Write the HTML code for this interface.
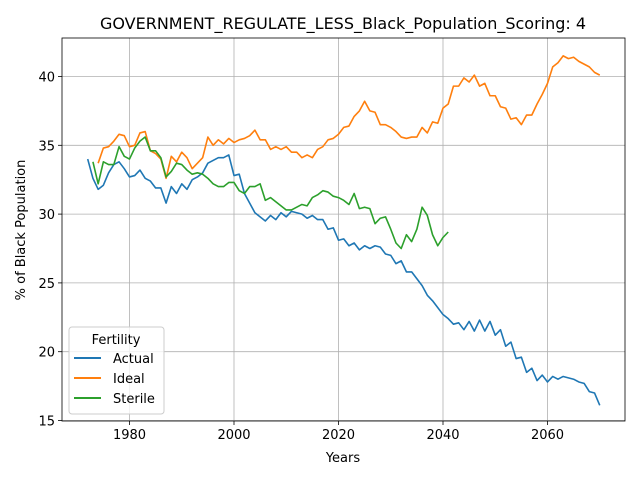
<!DOCTYPE html>
<html><head><meta charset="utf-8"><style>
body{margin:0;background:#fff;}
svg{display:block;font-family:"DejaVu Sans","Liberation Sans",sans-serif;}
</style></head><body>
<svg id="chart" width="640" height="480" viewBox="0 0 640 480" xmlns="http://www.w3.org/2000/svg">
<rect width="640" height="480" fill="#fff"/>
<g id="grid"></g>
<g id="series"></g>
<g id="axes"></g>
<text x="343" y="29" text-anchor="middle" font-size="16">GOVERNMENT_REGULATE_LESS_Black_Population_Scoring: 4</text>
<text x="343" y="462" text-anchor="middle" font-size="13">Years</text>
<text transform="translate(25,230) rotate(-90)" text-anchor="middle" font-size="13">% of Black Population</text>
<g id="legend">
<rect x="69" y="327" width="95" height="87" rx="3" fill="#fff" fill-opacity="0.8" stroke="#ccc"/>
<text x="116" y="344" text-anchor="middle" font-size="13">Fertility</text>
<g><line x1="74" y1="358" x2="101" y2="358" stroke="#1f77b4" stroke-width="2"/><text x="113" y="363" font-size="13">Actual</text></g>
<g><line x1="74" y1="378" x2="101" y2="378" stroke="#ff7f0e" stroke-width="2"/><text x="113" y="383" font-size="13">Ideal</text></g>
<g><line x1="74" y1="398" x2="101" y2="398" stroke="#2ca02c" stroke-width="2"/><text x="113" y="403" font-size="13">Sterile</text></g>
</g>
</svg>
<script>
const actualStart = 1972;
const actualValues = [34.0,32.6,31.8,32.1,33.0,33.6,33.8,33.3,32.7,32.8,33.2,32.6,32.4,31.9,31.9,30.8,32.0,31.5,32.2,31.8,32.5,32.7,33.0,33.7,33.9,34.1,34.1,34.3,32.8,32.9,31.5,30.8,30.1,29.8,29.5,29.9,29.6,30.1,29.8,30.2,30.1,30.0,29.7,29.9,29.6,29.6,28.9,29.0,28.1,28.2,27.7,27.9,27.4,27.7,27.5,27.7,27.6,27.1,27.0,26.4,26.6,25.8,25.8,25.3,24.8,24.1,23.7,23.2,22.7,22.4,22.0,22.1,21.6,22.2,21.5,22.3,21.5,22.2,21.2,21.6,20.4,20.7,19.5,19.6,18.5,18.8,17.9,18.3,17.8,18.2,18.0,18.2,18.1,18.0,17.8,17.7,17.1,17.0,16.1];
const idealStart = 1974;
const idealValues = [33.7,34.8,34.9,35.3,35.8,35.7,34.9,35.0,35.9,36.0,34.6,34.4,34.0,32.6,34.2,33.8,34.5,34.1,33.3,33.7,34.1,35.6,35.0,35.4,35.1,35.5,35.2,35.4,35.5,35.7,36.1,35.4,35.4,34.7,34.9,34.7,34.9,34.5,34.5,34.1,34.3,34.1,34.7,34.9,35.4,35.5,35.8,36.3,36.4,37.1,37.5,38.2,37.5,37.4,36.5,36.5,36.3,36.0,35.6,35.5,35.6,35.6,36.3,35.9,36.7,36.6,37.7,38.0,39.3,39.3,39.9,39.6,40.1,39.3,39.5,38.6,38.6,37.8,37.7,36.9,37.0,36.5,37.2,37.2,38.0,38.7,39.5,40.7,41.0,41.5,41.3,41.4,41.1,40.9,40.7,40.3,40.1];
const sterileStart = 1973;
const sterileValues = [33.8,32.2,33.8,33.6,33.6,34.9,34.2,34.0,34.8,35.3,35.6,34.6,34.6,34.1,32.7,33.1,33.7,33.6,33.2,32.9,33.0,32.9,32.6,32.2,32.0,32.0,32.3,32.3,31.7,31.5,32.0,32.0,32.2,31.0,31.2,30.9,30.6,30.3,30.3,30.5,30.7,30.6,31.2,31.4,31.7,31.6,31.3,31.2,31.0,30.7,31.5,30.4,30.5,30.4,29.3,29.7,29.8,28.9,27.9,27.5,28.5,28.0,28.9,30.5,29.9,28.5,27.7,28.3,28.7];
const xTicks = [1980,2000,2020,2040,2060];
const yTicks = [15,20,25,30,35,40];

const NS = "http://www.w3.org/2000/svg";
const L = 62, R = 625, T = 38, B = 421;
function xs(yr){ return 129.5 + (yr - 1980) * 5.225; }
function ys(v){ return 420.5 - (v - 15) * 13.76; }
function mk(tag, attrs, parent){ const e = document.createElementNS(NS, tag); for (const k in attrs) e.setAttribute(k, attrs[k]); parent.appendChild(e); return e; }

const grid = document.getElementById('grid');
const axes = document.getElementById('axes');
xTicks.forEach(t => {
  const g = mk('line', {x1: xs(t), x2: xs(t), y1: T, y2: B, stroke: '#b0b0b0', 'stroke-width': 0.8}, grid);
  
  
  mk('line', {x1: xs(t), x2: xs(t), y1: B, y2: B + 4, stroke: '#000', 'stroke-width': 0.8}, axes);
  const tx = mk('text', {x: xs(t), y: B + 18, 'text-anchor': 'middle', 'font-size': 13}, axes);
  tx.textContent = t;
  
  
});
yTicks.forEach(t => {
  const g = mk('line', {x1: L, x2: R, y1: ys(t), y2: ys(t), stroke: '#b0b0b0', 'stroke-width': 0.8}, grid);
  
  
  mk('line', {x1: L - 4, x2: L, y1: ys(t), y2: ys(t), stroke: '#000', 'stroke-width': 0.8}, axes);
  const tx = mk('text', {x: L - 7, y: ys(t) + 5, 'text-anchor': 'end', 'font-size': 13}, axes);
  tx.textContent = t;
  
  
});
const frame = mk('rect', {x: L, y: T, width: R - L, height: B - T, fill: 'none', stroke: '#000', 'stroke-width': 0.8}, axes);



const series = document.getElementById('series');
function draw(start, vals, color, name){
  const pts = vals.map((v, i) => xs(start + i).toFixed(2) + ',' + ys(v).toFixed(2)).join(' ');
  const p = mk('polyline', {points: pts, fill: 'none', stroke: color, 'stroke-width': 1.6, 'stroke-linejoin': 'round'}, series);
  
  
}
draw(actualStart, actualValues, '#1f77b4', 'actual-line');
draw(idealStart, idealValues, '#ff7f0e', 'ideal-line');
draw(sterileStart, sterileValues, '#2ca02c', 'sterile-line');
</script>
</body></html>
